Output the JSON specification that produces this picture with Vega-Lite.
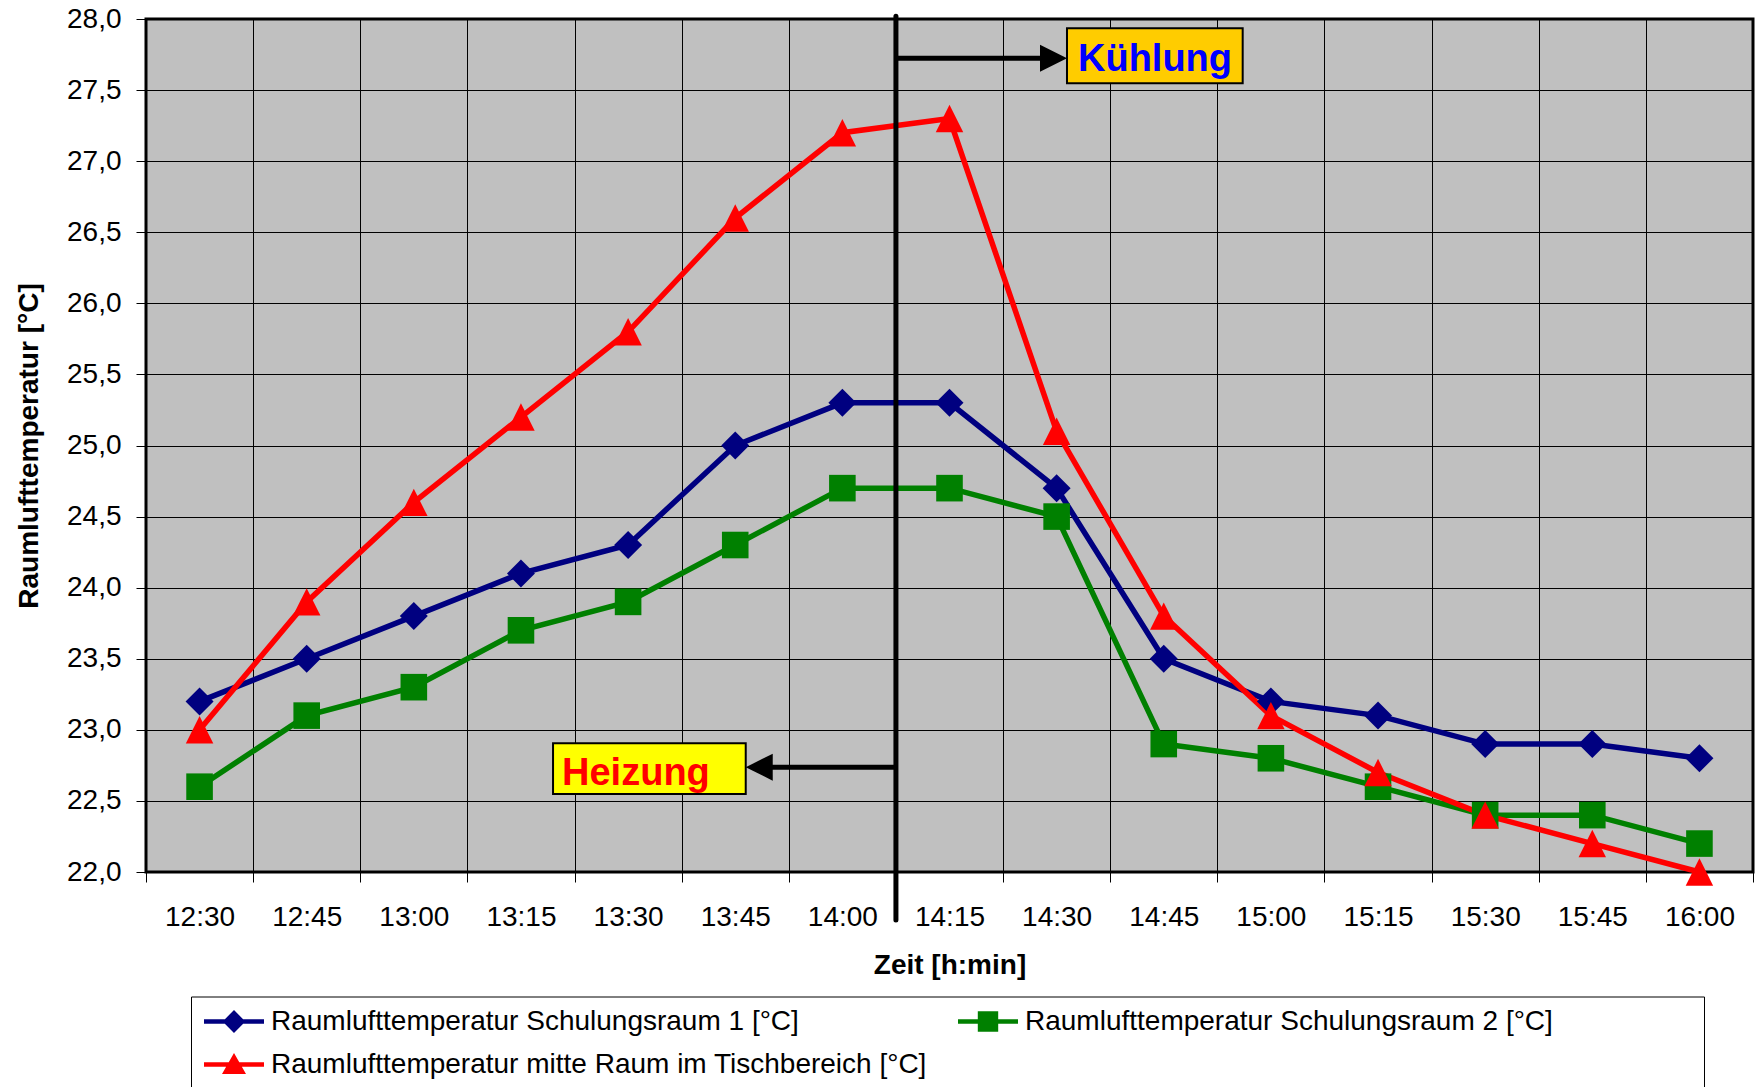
{
  "$schema": "https://vega.github.io/schema/vega-lite/v6.json",
  "width": 1607,
  "height": 853,
  "autosize": {"type": "none"},
  "padding": {"left": 146, "top": 19, "right": 5, "bottom": 215},
  "background": "white",
  "config": {
    "font": "Liberation Sans",
    "view": {"fill": "#C0C0C0", "stroke": "#000000", "strokeWidth": 3}
  },
  "datasets": {
    "temps": [
      {"Zeit": "12:30", "min": 0, "Serie": "Raumlufttemperatur Schulungsraum 1 [°C]", "T": 23.2},
      {"Zeit": "12:45", "min": 15, "Serie": "Raumlufttemperatur Schulungsraum 1 [°C]", "T": 23.5},
      {"Zeit": "13:00", "min": 30, "Serie": "Raumlufttemperatur Schulungsraum 1 [°C]", "T": 23.8},
      {"Zeit": "13:15", "min": 45, "Serie": "Raumlufttemperatur Schulungsraum 1 [°C]", "T": 24.1},
      {"Zeit": "13:30", "min": 60, "Serie": "Raumlufttemperatur Schulungsraum 1 [°C]", "T": 24.3},
      {"Zeit": "13:45", "min": 75, "Serie": "Raumlufttemperatur Schulungsraum 1 [°C]", "T": 25.0},
      {"Zeit": "14:00", "min": 90, "Serie": "Raumlufttemperatur Schulungsraum 1 [°C]", "T": 25.3},
      {"Zeit": "14:15", "min": 105, "Serie": "Raumlufttemperatur Schulungsraum 1 [°C]", "T": 25.3},
      {"Zeit": "14:30", "min": 120, "Serie": "Raumlufttemperatur Schulungsraum 1 [°C]", "T": 24.7},
      {"Zeit": "14:45", "min": 135, "Serie": "Raumlufttemperatur Schulungsraum 1 [°C]", "T": 23.5},
      {"Zeit": "15:00", "min": 150, "Serie": "Raumlufttemperatur Schulungsraum 1 [°C]", "T": 23.2},
      {"Zeit": "15:15", "min": 165, "Serie": "Raumlufttemperatur Schulungsraum 1 [°C]", "T": 23.1},
      {"Zeit": "15:30", "min": 180, "Serie": "Raumlufttemperatur Schulungsraum 1 [°C]", "T": 22.9},
      {"Zeit": "15:45", "min": 195, "Serie": "Raumlufttemperatur Schulungsraum 1 [°C]", "T": 22.9},
      {"Zeit": "16:00", "min": 210, "Serie": "Raumlufttemperatur Schulungsraum 1 [°C]", "T": 22.8},
      {"Zeit": "12:30", "min": 0, "Serie": "Raumlufttemperatur Schulungsraum 2 [°C]", "T": 22.6},
      {"Zeit": "12:45", "min": 15, "Serie": "Raumlufttemperatur Schulungsraum 2 [°C]", "T": 23.1},
      {"Zeit": "13:00", "min": 30, "Serie": "Raumlufttemperatur Schulungsraum 2 [°C]", "T": 23.3},
      {"Zeit": "13:15", "min": 45, "Serie": "Raumlufttemperatur Schulungsraum 2 [°C]", "T": 23.7},
      {"Zeit": "13:30", "min": 60, "Serie": "Raumlufttemperatur Schulungsraum 2 [°C]", "T": 23.9},
      {"Zeit": "13:45", "min": 75, "Serie": "Raumlufttemperatur Schulungsraum 2 [°C]", "T": 24.3},
      {"Zeit": "14:00", "min": 90, "Serie": "Raumlufttemperatur Schulungsraum 2 [°C]", "T": 24.7},
      {"Zeit": "14:15", "min": 105, "Serie": "Raumlufttemperatur Schulungsraum 2 [°C]", "T": 24.7},
      {"Zeit": "14:30", "min": 120, "Serie": "Raumlufttemperatur Schulungsraum 2 [°C]", "T": 24.5},
      {"Zeit": "14:45", "min": 135, "Serie": "Raumlufttemperatur Schulungsraum 2 [°C]", "T": 22.9},
      {"Zeit": "15:00", "min": 150, "Serie": "Raumlufttemperatur Schulungsraum 2 [°C]", "T": 22.8},
      {"Zeit": "15:15", "min": 165, "Serie": "Raumlufttemperatur Schulungsraum 2 [°C]", "T": 22.6},
      {"Zeit": "15:30", "min": 180, "Serie": "Raumlufttemperatur Schulungsraum 2 [°C]", "T": 22.4},
      {"Zeit": "15:45", "min": 195, "Serie": "Raumlufttemperatur Schulungsraum 2 [°C]", "T": 22.4},
      {"Zeit": "16:00", "min": 210, "Serie": "Raumlufttemperatur Schulungsraum 2 [°C]", "T": 22.2},
      {"Zeit": "12:30", "min": 0, "Serie": "Raumlufttemperatur mitte Raum im Tischbereich [°C]", "T": 23.0},
      {"Zeit": "12:45", "min": 15, "Serie": "Raumlufttemperatur mitte Raum im Tischbereich [°C]", "T": 23.9},
      {"Zeit": "13:00", "min": 30, "Serie": "Raumlufttemperatur mitte Raum im Tischbereich [°C]", "T": 24.6},
      {"Zeit": "13:15", "min": 45, "Serie": "Raumlufttemperatur mitte Raum im Tischbereich [°C]", "T": 25.2},
      {"Zeit": "13:30", "min": 60, "Serie": "Raumlufttemperatur mitte Raum im Tischbereich [°C]", "T": 25.8},
      {"Zeit": "13:45", "min": 75, "Serie": "Raumlufttemperatur mitte Raum im Tischbereich [°C]", "T": 26.6},
      {"Zeit": "14:00", "min": 90, "Serie": "Raumlufttemperatur mitte Raum im Tischbereich [°C]", "T": 27.2},
      {"Zeit": "14:15", "min": 105, "Serie": "Raumlufttemperatur mitte Raum im Tischbereich [°C]", "T": 27.3},
      {"Zeit": "14:30", "min": 120, "Serie": "Raumlufttemperatur mitte Raum im Tischbereich [°C]", "T": 25.1},
      {"Zeit": "14:45", "min": 135, "Serie": "Raumlufttemperatur mitte Raum im Tischbereich [°C]", "T": 23.8},
      {"Zeit": "15:00", "min": 150, "Serie": "Raumlufttemperatur mitte Raum im Tischbereich [°C]", "T": 23.1},
      {"Zeit": "15:15", "min": 165, "Serie": "Raumlufttemperatur mitte Raum im Tischbereich [°C]", "T": 22.7},
      {"Zeit": "15:30", "min": 180, "Serie": "Raumlufttemperatur mitte Raum im Tischbereich [°C]", "T": 22.4},
      {"Zeit": "15:45", "min": 195, "Serie": "Raumlufttemperatur mitte Raum im Tischbereich [°C]", "T": 22.2},
      {"Zeit": "16:00", "min": 210, "Serie": "Raumlufttemperatur mitte Raum im Tischbereich [°C]", "T": 22.0}
    ]
  },
  "encoding": {
    "x": {
      "field": "min",
      "type": "quantitative",
      "scale": {"domain": [-7.5, 217.5], "nice": false, "zero": false},
      "axis": {
        "title": "Zeit [h:min]",
        "values": [-7.5, 7.5, 22.5, 37.5, 52.5, 67.5, 82.5, 97.5, 112.5, 127.5, 142.5, 157.5, 172.5, 187.5, 202.5, 217.5],
        "labelExpr": "datum.value > 210 ? '' : (floor((datum.value + 37.5) / 60) + 12) + ':' + (((datum.value + 37.5) % 60) < 10 ? '0' : '') + ((datum.value + 37.5) % 60)",
        "labelOffset": 53.57,
        "labelPadding": 21,
        "labelFontSize": 28,
        "labelFont": "Liberation Sans",
        "labelColor": "#000000",
        "labelOverlap": false,
        "labelFlush": false,
        "labelBound": false,
        "domain": false,
        "grid": true,
        "gridColor": "#000000",
        "gridWidth": 1,
        "gridOpacity": 1,
        "ticks": true,
        "tickSize": 10,
        "tickColor": "#000000",
        "tickWidth": 1,
        "titleFont": "Liberation Sans",
        "titleFontSize": 28,
        "titleFontWeight": "bold",
        "titleColor": "#000000",
        "titlePadding": 20
      }
    },
    "y": {
      "field": "T",
      "type": "quantitative",
      "scale": {"domain": [22, 28], "nice": false, "zero": false},
      "axis": {
        "title": "Raumlufttemperatur [°C]",
        "values": [22, 22.5, 23, 23.5, 24, 24.5, 25, 25.5, 26, 26.5, 27, 27.5, 28],
        "labelExpr": "replace(format(datum.value, '.1f'), '.', ',')",
        "labelPadding": 15,
        "labelFontSize": 28,
        "labelFont": "Liberation Sans",
        "labelColor": "#000000",
        "labelOverlap": false,
        "labelFlush": false,
        "labelBound": false,
        "domain": false,
        "grid": true,
        "gridColor": "#000000",
        "gridWidth": 1,
        "gridOpacity": 1,
        "ticks": true,
        "tickSize": 10,
        "tickColor": "#000000",
        "tickWidth": 1,
        "titleFont": "Liberation Sans",
        "titleFontSize": 28,
        "titleFontWeight": "bold",
        "titleColor": "#000000",
        "titlePadding": 23
      }
    }
  },
  "layer": [
    {
      "data": {"values": [{"min": 121.45, "min2": 146.05, "T": 27.935, "T2": 27.548}]},
      "mark": {"type": "rect", "fill": "#FFCC00", "stroke": "#000000", "strokeWidth": 2},
      "encoding": {"x2": {"field": "min2"}, "y2": {"field": "T2"}}
    },
    {
      "data": {"values": [{"min": 49.49, "min2": 76.47, "T": 22.905, "T2": 22.549}]},
      "mark": {"type": "rect", "fill": "#FFFF00", "stroke": "#000000", "strokeWidth": 2},
      "encoding": {"x2": {"field": "min2"}, "y2": {"field": "T2"}}
    },
    {
      "data": {"values": [{"min": 122.99, "T": 27.636, "label": "Kühlung"}]},
      "mark": {"type": "text", "align": "left", "baseline": "alphabetic", "font": "Liberation Sans", "fontSize": 38, "fontWeight": "bold", "color": "#0000FF"},
      "encoding": {"text": {"field": "label"}}
    },
    {
      "data": {"values": [{"min": 50.75, "T": 22.612, "label": "Heizung"}]},
      "mark": {"type": "text", "align": "left", "baseline": "alphabetic", "font": "Liberation Sans", "fontSize": 38, "fontWeight": "bold", "color": "#FF0000"},
      "encoding": {"text": {"field": "label"}}
    },
    {
      "data": {"name": "temps"},
      "mark": {"type": "line", "strokeWidth": 5.5},
      "encoding": {
        "color": {
          "field": "Serie",
          "type": "nominal",
          "scale": {
            "domain": ["Raumlufttemperatur Schulungsraum 1 [°C]", "Raumlufttemperatur Schulungsraum 2 [°C]", "Raumlufttemperatur mitte Raum im Tischbereich [°C]"],
            "range": ["#000080", "#008000", "#FF0000"]
          },
          "legend": null
        }
      }
    },
    {
      "data": {"name": "temps"},
      "mark": {"type": "point", "filled": true, "size": 784, "opacity": 1, "strokeWidth": 0},
      "encoding": {
        "color": {
          "field": "Serie",
          "type": "nominal",
          "scale": {
            "domain": ["Raumlufttemperatur Schulungsraum 1 [°C]", "Raumlufttemperatur Schulungsraum 2 [°C]", "Raumlufttemperatur mitte Raum im Tischbereich [°C]"],
            "range": ["#000080", "#008000", "#FF0000"]
          },
          "legend": null
        },
        "shape": {
          "field": "Serie",
          "type": "nominal",
          "scale": {
            "domain": ["Raumlufttemperatur Schulungsraum 1 [°C]", "Raumlufttemperatur Schulungsraum 2 [°C]", "Raumlufttemperatur mitte Raum im Tischbereich [°C]"],
            "range": ["M0,-1L1,0L0,1L-1,0Z", "M-0.95,-0.95H0.95V0.95H-0.95Z", "M0,-0.98L0.98,0.98H-0.98Z"]
          },
          "legend": null
        }
      }
    },
    {
      "data": {"name": "temps"},
      "transform": [{"filter": "datum.T > 100"}],
      "mark": {"type": "point", "filled": true, "opacity": 1, "strokeWidth": 0},
      "encoding": {
        "color": {
          "field": "Serie",
          "type": "nominal",
          "scale": {
            "domain": ["Raumlufttemperatur Schulungsraum 1 [°C]", "Raumlufttemperatur Schulungsraum 2 [°C]", "Raumlufttemperatur mitte Raum im Tischbereich [°C]"],
            "range": ["#000080", "#008000", "#FF0000"]
          },
          "legend": {
            "orient": "none", "legendX": 45, "legendY": 977.5, "columns": 2, "direction": "horizontal", "title": null,
            "labelFont": "Liberation Sans", "labelFontSize": 28, "labelColor": "#000000", "labelLimit": 2000,
            "labelExpr": "datum.label + (indexof(datum.label, 'raum 2') >= 0 ? '                  \u200b' : '')",
            "symbolSize": 576, "symbolStrokeWidth": 0, "symbolOpacity": 1, "labelOffset": 41,
            "padding": 11, "rowPadding": 15, "columnPadding": 29,
            "strokeColor": "#000000", "fillColor": "#FFFFFF"
          }
        },
        "shape": {
          "field": "Serie",
          "type": "nominal",
          "scale": {
            "domain": ["Raumlufttemperatur Schulungsraum 1 [°C]", "Raumlufttemperatur Schulungsraum 2 [°C]", "Raumlufttemperatur mitte Raum im Tischbereich [°C]"],
            "range": [
              "M-1,-0.19H4V0.19H-1Z M1.5,-0.95L2.45,0L1.5,0.95L0.55,0Z",
              "M-1,-0.19H4V0.19H-1Z M0.65,-0.85H2.35V0.85H0.65Z",
              "M-1,-0.19H4V0.19H-1Z M1.5,-0.95L2.5,0.8H0.5Z"
            ]
          },
          "legend": {
            "orient": "none", "legendX": 45, "legendY": 977.5, "columns": 2, "direction": "horizontal", "title": null,
            "labelFont": "Liberation Sans", "labelFontSize": 28, "labelColor": "#000000", "labelLimit": 2000,
            "labelExpr": "datum.label + (indexof(datum.label, 'raum 2') >= 0 ? '                  \u200b' : '')",
            "symbolSize": 576, "symbolStrokeWidth": 0, "symbolOpacity": 1, "labelOffset": 41,
            "padding": 11, "rowPadding": 15, "columnPadding": 29,
            "strokeColor": "#000000", "fillColor": "#FFFFFF"
          }
        }
      }
    },
    {
      "data": {"values": [{"min": 97.5, "T": 21.663, "T2": 28.02}]},
      "mark": {"type": "rule", "color": "#000000", "strokeWidth": 5, "strokeCap": "round"},
      "encoding": {"y2": {"field": "T2"}}
    },
    {
      "data": {"values": [{"min": 97.5, "min2": 119, "T": 27.724}]},
      "mark": {"type": "rule", "color": "#000000", "strokeWidth": 5},
      "encoding": {"x2": {"field": "min2"}}
    },
    {
      "data": {"values": [{"min": 97.5, "min2": 79, "T": 22.737}]},
      "mark": {"type": "rule", "color": "#000000", "strokeWidth": 5},
      "encoding": {"x2": {"field": "min2"}}
    },
    {
      "data": {"values": [{"min": 121.45, "T": 27.724}]},
      "mark": {"type": "point", "shape": "M0,0L-2,-1L-2,1Z", "filled": true, "color": "#000000", "size": 729, "opacity": 1, "strokeWidth": 0}
    },
    {
      "data": {"values": [{"min": 76.47, "T": 22.737}]},
      "mark": {"type": "point", "shape": "M0,0L2,-1L2,1Z", "filled": true, "color": "#000000", "size": 729, "opacity": 1, "strokeWidth": 0}
    }
  ],
  "resolve": {"scale": {"color": "independent", "shape": "independent"}}
}
